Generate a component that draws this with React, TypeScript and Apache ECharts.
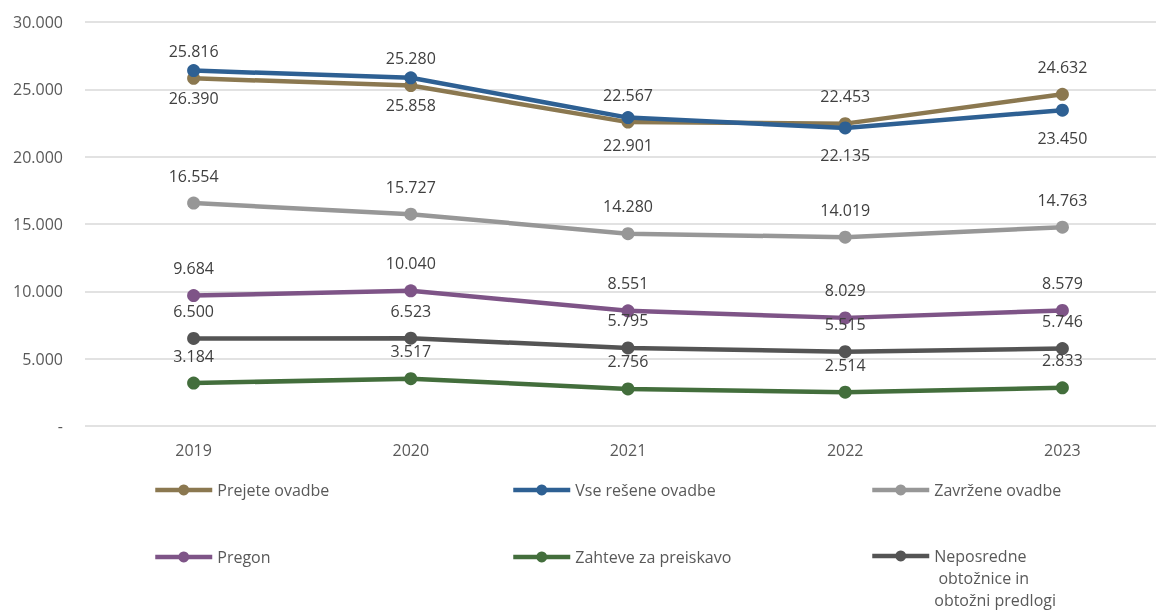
import React, { useEffect, useRef } from "react";
import * as echarts from "echarts";

const years = ["2019", "2020", "2021", "2022", "2023"];
const prejete = [25816, 25280, 22567, 22453, 24632];
const vseResene = [26390, 25858, 22901, 22135, 23450];
const zavrzene = [16554, 15727, 14280, 14019, 14763];
const pregon = [9684, 10040, 8551, 8029, 8579];
const zahteve = [3184, 3517, 2756, 2514, 2833];
const neposredne = [6500, 6523, 5795, 5515, 5746];

const seriesNames = [
  "Prejete ovadbe",
  "Vse rešene ovadbe",
  "Zavržene ovadbe",
  "Pregon",
  "Zahteve za preiskavo",
  "Neposredne obtožnice in obtožni predlogi",
];
const seriesData = [prejete, vseResene, zavrzene, pregon, zahteve, neposredne];
const colors = ["#8B7850", "#2E6093", "#979797", "#7E5487", "#436E3C", "#545454"];
const labelPos = ["top", "bottom", "top", "top", "top", "top"];

const FONT = "'Open Sans', sans-serif";

const fmt = (v: number) =>
  v === 0 ? "-" : String(v).replace(/\B(?=(\d{3})+(?!\d))/g, ".");

export default function App() {
  const ref = useRef<HTMLDivElement>(null);
  useEffect(() => {
    if (!ref.current) return;
    const chart = echarts.init(ref.current, null, { renderer: "svg" });
    const legendPos = [
      { left: 153, top: 479 },
      { left: 511, top: 479 },
      { left: 870, top: 479 },
      { left: 153, top: 546 },
      { left: 511, top: 546 },
      { left: 870, top: 501 },
    ];
    chart.setOption({
      animation: false,
      textStyle: { fontFamily: FONT },
      grid: { left: 85, right: 0, top: 22, bottom: 184, containLabel: false },
      xAxis: {
        type: "category",
        data: years,
        boundaryGap: true,
        axisLine: { show: false },
        axisTick: { show: false },
        axisLabel: { color: "#595959", fontSize: 16, fontFamily: FONT, margin: 16 },
      },
      yAxis: {
        type: "value",
        min: 0,
        max: 30000,
        interval: 5000,
        axisLine: { show: false },
        axisTick: { show: false },
        splitLine: { lineStyle: { color: "#D9D9D9", width: 1.5 } },
        axisLabel: {
          color: "#595959",
          fontSize: 16,
          fontFamily: FONT,
          margin: 22,
          formatter: (v: number) => fmt(v),
        },
      },
      legend: seriesNames.map((n, i) => ({
        data: [n],
        left: legendPos[i].left,
        top: legendPos[i].top,
        padding: 0,
        itemWidth: 57,
        itemHeight: 13.5,
        itemGap: 0,
        lineStyle: { width: 4.5 },
        textStyle: {
          color: "#595959",
          fontSize: 16,
          fontFamily: FONT,
          lineHeight: 22,
        },
        formatter: (name: string) =>
          name === "Neposredne obtožnice in obtožni predlogi"
            ? "\n\nNeposredne\n obtožnice in\nobtožni predlogi"
            : name,
      })),
      series: seriesNames.map((n, i) => ({
        name: n,
        type: "line",
        data: seriesData[i],
        symbol: "circle",
        symbolSize: 13,
        color: colors[i],
        lineStyle: { width: 4.5, color: colors[i] },
        itemStyle: { color: colors[i] },
        label: {
          show: true,
          position: labelPos[i],
          distance: 13,
          color: "#404040",
          fontSize: 16,
          fontFamily: FONT,
          formatter: (p: any) => fmt(p.value),
        },
      })),
    });
    return () => chart.dispose();
  }, []);
  return (
    <div
      style={{
        position: "fixed",
        left: 0,
        top: 0,
        width: 1156,
        height: 610,
        overflow: "hidden",
      }}
    >
      <div ref={ref} style={{ width: 1171, height: 610 }} />
    </div>
  );
}
